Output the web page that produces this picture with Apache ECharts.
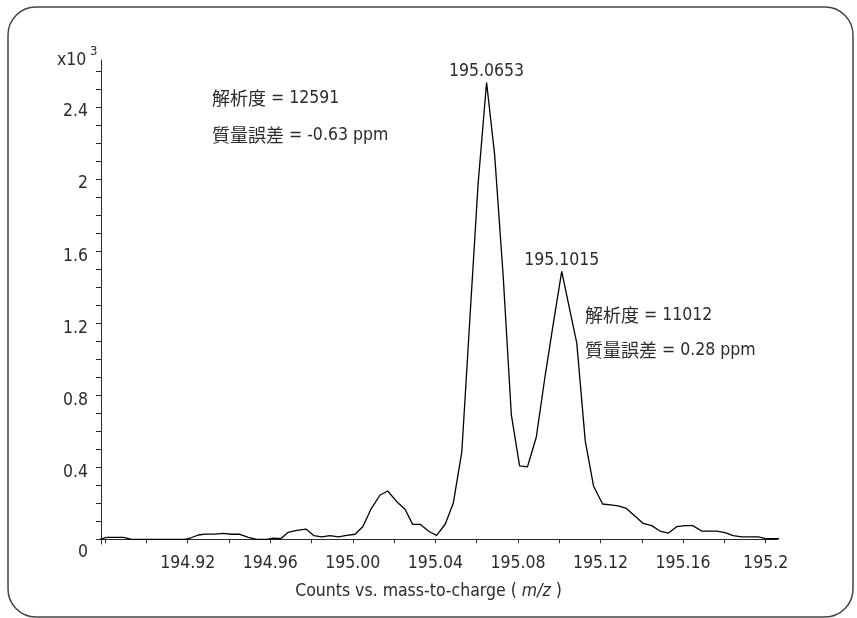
<!DOCTYPE html>
<html>
<head>
<meta charset="utf-8">
<script src="https://cdn.jsdelivr.net/npm/echarts@6/dist/echarts.min.js"></script>
<style>
html, body { margin: 0; padding: 0; background: #fff; }
#chart { width: 857px; height: 618px; }
</style>
</head>
<body>
<div id="chart"></div>
<script>
// profile spectrum: m/z and counts (x10^3)
const mz = [
	194.8775, 194.8808, 194.8888, 194.8929, 194.9187, 194.9211, 194.9251, 194.9284,
	194.9332, 194.9372, 194.9413, 194.9453, 194.9494, 194.9534, 194.9583, 194.9615,
	194.9652, 194.9687, 194.9728, 194.9773, 194.9812, 194.9849, 194.9889, 194.9930,
	194.9970, 195.0011, 195.0048, 195.0088, 195.0132, 195.0169, 195.0213, 195.0253,
	195.0290, 195.0326, 195.0371, 195.0406, 195.0448, 195.0487, 195.0528, 195.0568,
	195.0607, 195.0648, 195.0687, 195.0728, 195.0768, 195.0808, 195.0846, 195.0889,
	195.0931, 195.0971, 195.1012, 195.1045, 195.1085, 195.1126, 195.1166, 195.1210,
	195.1248, 195.1286, 195.1324, 195.1365, 195.1407, 195.1448, 195.1488, 195.1529,
	195.1569, 195.1609, 195.1647, 195.1690, 195.1726, 195.1763, 195.1803, 195.1843,
	195.1884, 195.1924, 195.1965, 195.2005, 195.2041, 195.2078
];
const counts = [
	0.000, 0.011, 0.011, 0.000, 0.000, 0.006, 0.024, 0.029,
	0.029, 0.033, 0.028, 0.028, 0.011, 0.000, 0.000, 0.006,
	0.004, 0.039, 0.050, 0.057, 0.020, 0.014, 0.020, 0.014,
	0.022, 0.028, 0.070, 0.167, 0.246, 0.268, 0.209, 0.167,
	0.083, 0.083, 0.042, 0.022, 0.085, 0.202, 0.485, 1.241,
	1.974, 2.535, 2.135, 1.468, 0.691, 0.407, 0.402, 0.568,
	0.902, 1.196, 1.487, 1.307, 1.089, 0.546, 0.296, 0.196,
	0.191, 0.186, 0.172, 0.131, 0.088, 0.076, 0.046, 0.035,
	0.070, 0.076, 0.076, 0.046, 0.046, 0.046, 0.037, 0.020,
	0.014, 0.014, 0.014, 0.003, 0.003, 0.003
];

const xTickValues = [194.88, 194.90, 194.92, 194.94, 194.96, 194.98, 195.00, 195.02,
	195.04, 195.06, 195.08, 195.10, 195.12, 195.14, 195.16, 195.18, 195.20];
const xLabelValues = [194.92, 194.96, 195.00, 195.04, 195.08, 195.12, 195.16, 195.20];
const xLabelTexts = ['194.92', '194.96', '195.00', '195.04', '195.08', '195.12', '195.16', '195.2'];
const yTickValues = [0, 0.1, 0.2, 0.3, 0.4, 0.5, 0.6, 0.7, 0.8, 0.9, 1.0, 1.1, 1.2, 1.3,
	1.4, 1.5, 1.6, 1.7, 1.8, 1.9, 2.0, 2.1, 2.2, 2.3, 2.4, 2.5, 2.6];
const yLabelValues = [0, 0.4, 0.8, 1.2, 1.6, 2.0, 2.4];

const peakMz = [195.0648, 195.1012];
const peakCounts = [2.535, 1.487];
const peakLabels = ['195.0653', '195.1015'];

// [CJK part, rest]
const notes = [
	[['解析度', ' = 12591'], ['質量誤差', ' = -0.63 ppm']],
	[['解析度', ' = 11012'], ['質量誤差', ' = 0.28 ppm']]
];

const FONT = '"DejaVu Sans Condensed", "Noto Sans CJK JP", sans-serif';
const CJK = '"Noto Sans CJK JP", sans-serif';
const INK = '#2b2b2b';
const FS = 17.5;

let chart = echarts.init(document.getElementById('chart'));

function xLabel(v) {
	let i = xLabelValues.findIndex(x => Math.abs(x - v) < 1e-6);
	return i < 0 ? '' : xLabelTexts[i];
}

function noteText(left, top, parts) {
	return {
		type: 'text', left, top,
		style: {
			text: `{c|${parts[0]}}{l|${parts[1]}}`,
			rich: {
				c: { font: '18px ' + CJK, fill: INK },
				l: { font: FS + 'px ' + FONT, fill: INK }
			}
		}
	};
}

chart.setOption({
	animation: false,
	grid: { left: 101, right: 80, top: 60, bottom: 74 },
	xAxis: {
		type: 'value', min: 194.878, max: 195.2055,
		axisLine: { lineStyle: { color: INK, width: 1 } },
		axisTick: { customValues: xTickValues, length: 4, lineStyle: { color: INK } },
		axisLabel: {
			customValues: xLabelValues, formatter: xLabel, margin: 11,
			color: INK, fontFamily: FONT, fontSize: FS
		},
		splitLine: { show: false }
	},
	yAxis: {
		type: 'value', min: -0.026, max: 2.66,
		axisLine: { show: true, lineStyle: { color: INK, width: 1 } },
		axisTick: { show: true, customValues: yTickValues, length: 5, lineStyle: { color: INK } },
		axisLabel: {
			customValues: yLabelValues, margin: 13,
			color: INK, fontFamily: FONT, fontSize: FS,
			formatter: v => v === 0 ? '{z|0}' : '{n|' + (+v.toFixed(1)) + '}',
			rich: {
				n: { fontFamily: FONT, fontSize: FS, color: INK, padding: [10, 0, 0, 0] },
				z: { fontFamily: FONT, fontSize: FS, color: INK, padding: [26, 0, 0, 0] }
			}
		},
		splitLine: { show: false }
	},
	series: [{
		type: 'line',
		data: mz.map((x, i) => [x, counts[i]]),
		showSymbol: false,
		clip: false,
		lineStyle: { color: '#000', width: 1.3 },
		markPoint: {
			symbol: 'circle', symbolSize: 0,
			label: {
				show: true, position: 'top', distance: 2, formatter: '{b}',
				color: INK, fontFamily: FONT, fontSize: FS
			},
			data: peakMz.map((x, i) => ({ name: peakLabels[i], coord: [x, peakCounts[i]] }))
		}
	}],
	graphic: [
		{
			type: 'rect', silent: true,
			shape: { x: 8, y: 7, width: 845, height: 610, r: 28 },
			style: { fill: 'none', stroke: '#444', lineWidth: 1.5 }
		},
		{
			type: 'text', left: 57, top: 52,
			style: { text: 'x10', font: FS + 'px ' + FONT, fill: INK }
		},
		{
			type: 'text', left: 90, top: 45,
			style: { text: '3', font: '13px ' + FONT, fill: INK }
		},
		{
			type: 'text', left: 'center', top: 583,
			style: {
				text: '{a|Counts vs. mass-to-charge ( }{i|m/z}{a| )}',
				rich: {
					a: { font: FS + 'px ' + FONT, fill: INK },
					i: { font: 'italic ' + FS + 'px ' + FONT, fill: INK }
				}
			}
		},
		noteText(212, 89, notes[0][0]),
		noteText(212, 126, notes[0][1]),
		noteText(585, 306, notes[1][0]),
		noteText(585, 341, notes[1][1])
	]
});
</script>
</body>
</html>
